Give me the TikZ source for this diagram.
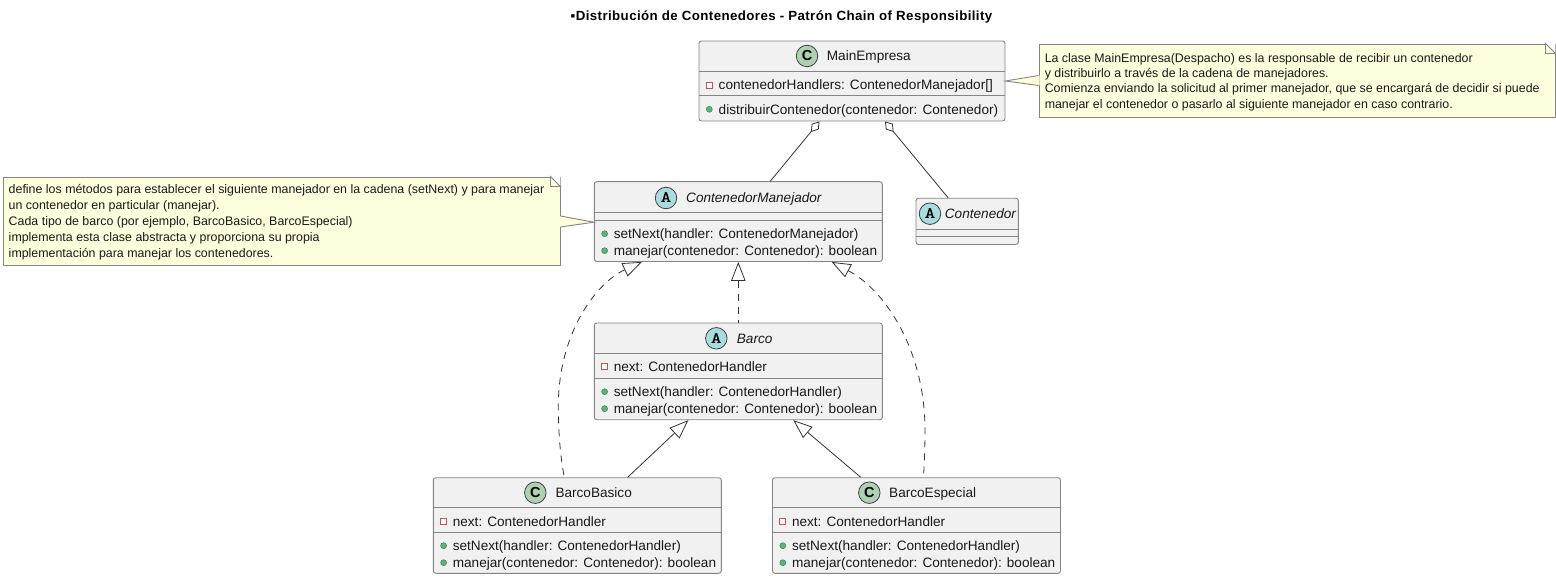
\documentclass[tikz,border=0pt]{standalone}
\usepackage{fontspec}
\usepackage{graphicx}
\setmainfont{Liberation Sans}
\usetikzlibrary{arrows.meta,calc}
\definecolor{boxfill}{HTML}{F1F1F1}
\definecolor{boxline}{HTML}{858585}
\definecolor{notefill}{HTML}{FEFFDD}
\definecolor{iconC}{HTML}{ADD1B2}
\definecolor{iconA}{HTML}{A9DCDF}
\definecolor{privline}{HTML}{C8505A}
\definecolor{pubfill}{HTML}{60B080}
\definecolor{publine}{HTML}{2E8B57}
\tikzset{
  classbox/.style={draw=boxline,fill=boxfill,rounded corners=2.5pt,line width=0.9pt,inner sep=0pt},
  sepline/.style={draw=boxline,line width=0.9pt},
  classicon/.style={circle,draw=black!75,line width=0.8pt,minimum size=21.5pt,inner sep=0pt},
  iconc/.style={classicon,fill=iconC,font=\bfseries\fontsize{14.5}{14}\selectfont},
  icona/.style={classicon,fill=iconA,font=\ttfamily\bfseries\fontsize{16}{14}\selectfont},
  ctitle/.style={anchor=base west,inner sep=0pt,text=black!90,font=\fontsize{13.6}{16}\selectfont},
  atitle/.style={ctitle,font=\itshape\fontsize{13.6}{16}\selectfont},
  member/.style={anchor=base west,inner sep=0pt,text=black!90,font=\fontsize{13.6}{16}\selectfont},
  notebox/.style={draw=boxline,fill=notefill,line width=0.9pt,inner sep=0pt},
  notetext/.style={inner sep=0pt,anchor=west,align=left,text=black!90},
  notea/.style={notetext,font=\fontsize{12.4}{15.4}\selectfont},
  noteb/.style={notetext,font=\fontsize{12.4}{16}\selectfont},
  pointer/.style={draw=boxline,fill=notefill,line width=0.9pt,line join=miter},
  aggr/.style={draw=black!80,line width=0.8pt,{Diamond[open,fill=white,length=13.5pt,width=9pt]}-},
  real/.style={draw=black!80,line width=0.8pt,{Triangle[open,fill=white,length=19pt,width=14.5pt]}-,dash pattern=on 7pt off 6pt},
  inh/.style={draw=black!80,line width=0.8pt,{Triangle[open,fill=white,length=19pt,width=14.5pt]}-},
}
\newcommand{\cbox}[7]{% name x1 y1 x2 y2 sep1 sep2
  \node[classbox,minimum width=#4-#2,minimum height=#5-#3] (#1) at ({(#2+#4)/2},{(#3+#5)/2}) {};
  \draw[sepline] (#2,#6) -- (#4,#6);
  \draw[sepline] (#2,#7) -- (#4,#7);
}
\newcommand{\privicon}[2]{\draw[draw=privline,fill=white,line width=0.8pt] (#1-3,#2-3) rectangle (#1+3,#2+3);}
\newcommand{\pubicon}[2]{\fill[fill=pubfill,draw=publine,line width=0.5pt] (#1,#2) circle (3pt);}
\newcommand{\wideA}{\scalebox{1.3}[1]{A}}
\begin{document}
\begin{tikzpicture}[x=1pt,y=-1pt]
\useasboundingbox (0,0) rectangle (1556,577);
\fill[white] (0,0) rectangle (1556,577);
% title
\node[anchor=base,inner sep=0pt,font=\bfseries\fontsize{13.3}{15}\selectfont\addfontfeature{LetterSpace=3}] (title) at (781.5,20.5) {▪Distribución de Contenedores - Patrón Chain of Responsibility};
% classes
\cbox{main}{699}{41}{1005}{121}{71.3}{95.3}
\cbox{cm}{594.3}{181.7}{882.3}{261.5}{212.3}{220}
\cbox{cont}{916}{198.3}{1018.3}{244.5}{229}{236.7}
\cbox{barco}{594.3}{323}{882.3}{419.7}{353.3}{378.3}
\cbox{basico}{433.3}{477.7}{721.3}{573.3}{507.7}{532.3}
\cbox{especial}{772.5}{477.7}{1060.5}{573.3}{507.7}{532.3}
% headers
\node[iconc] (iMain) at (807,56) {C};
\node[ctitle] (tMain) at (826.7,61) {MainEmpresa};
\node[icona] (iCm) at (666,198) {\wideA};
\node[atitle] (tCm) at (686,203) {ContenedorManejador};
\node[icona] (iCont) at (930,213.7) {\wideA};
\node[atitle] (tCont) at (944.7,218.7) {Contenedor};
\node[icona] (iBarco) at (716.3,338.3) {\wideA};
\node[atitle] (tBarco) at (736.7,343.3) {Barco};
\node[iconc] (iBas) at (535.3,492.7) {C};
\node[ctitle] (tBas) at (555.3,497.7) {BarcoBasico};
\node[iconc] (iEsp) at (869.3,492.7) {C};
\node[ctitle] (tEsp) at (889,497.7) {BarcoEspecial};
% members
\privicon{709.3}{85}
\node[member] (m1) at (718.5,90) {contenedorHandlers: ContenedorManejador[]};
\pubicon{709.3}{109.3}
\node[member] (m2) at (718.5,114.3) {distribuirContenedor(contenedor: Contenedor)};
\pubicon{604.6}{233.7}
\node[member] (c1) at (613.6,238.7) {setNext(handler: ContenedorManejador)};
\pubicon{604.6}{250.7}
\node[member] (c2) at (613.6,255.7) {manejar(contenedor: Contenedor): boolean};
\privicon{604.6}{366.7}
\node[member] (b1) at (613.6,371.7) {next: ContenedorHandler};
\pubicon{604.6}{391.7}
\node[member] (b2) at (613.6,396.7) {setNext(handler: ContenedorHandler)};
\pubicon{604.6}{408.7}
\node[member] (b3) at (613.6,413.7) {manejar(contenedor: Contenedor): boolean};
\privicon{443.6}{521.7}
\node[member] (s1) at (452.6,526.7) {next: ContenedorHandler};
\pubicon{443.6}{545.7}
\node[member] (s2) at (452.6,550.7) {setNext(handler: ContenedorHandler)};
\pubicon{443.6}{562.7}
\node[member] (s3) at (452.6,567.7) {manejar(contenedor: Contenedor): boolean};
\privicon{782.8}{521.7}
\node[member] (e1) at (791.8,526.7) {next: ContenedorHandler};
\pubicon{782.8}{545.7}
\node[member] (e2) at (791.8,550.7) {setNext(handler: ContenedorHandler)};
\pubicon{782.8}{562.7}
\node[member] (e3) at (791.8,567.7) {manejar(contenedor: Contenedor): boolean};
% notes
\node[notebox,minimum width=516pt,minimum height=73pt] (n1) at (1297,80.5) {};
\node[notea] (n1t) at ([xshift=6pt,yshift=-1.5pt]n1.west) {La clase MainEmpresa(Despacho) es la responsable de recibir un contenedor\\y distribuirlo a través de la cadena de manejadores.\\Comienza enviando la solicitud al primer manejador, que se encargará de decidir si puede\\manejar el contenedor o pasarlo al siguiente manejador en caso contrario.};
\node[notebox,minimum width=557pt,minimum height=88pt] (n2) at (281.5,221) {};
\node[noteb] (n2t) at ([xshift=6pt,yshift=-1.7pt]n2.west) {define los métodos para establecer el siguiente manejador en la cadena (setNext) y para manejar\\un contenedor en particular (manejar).\\Cada tipo de barco (por ejemplo, BarcoBasico, BarcoEspecial)\\implementa esta clase abstracta y proporciona su propia\\implementación para manejar los contenedores.};
% folds
\fill[white] ([xshift=-10pt]n1.north east) -- (n1.north east) -- ([yshift=-10pt]n1.north east) -- cycle;
\draw[pointer] ([xshift=-10pt]n1.north east) -- ([xshift=-10pt,yshift=-10pt]n1.north east) -- ([yshift=-10pt]n1.north east) -- cycle;
\fill[white] ([xshift=-10pt]n2.north east) -- (n2.north east) -- ([yshift=-10pt]n2.north east) -- cycle;
\draw[pointer] ([xshift=-10pt]n2.north east) -- ([xshift=-10pt,yshift=-10pt]n2.north east) -- ([yshift=-10pt]n2.north east) -- cycle;
% note pointers
\fill[notefill] ([xshift=1pt,yshift=5pt]n1.west) -- (main.east) -- ([xshift=1pt,yshift=-5pt]n1.west) -- cycle;
\draw[boxline,line width=0.9pt] ([yshift=5pt]n1.west) -- (main.east) -- ([yshift=-5pt]n1.west);
\fill[notefill] ([xshift=-1pt,yshift=5pt]n2.east) -- ([yshift=-0.6pt]cm.west) -- ([xshift=-1pt,yshift=-6pt]n2.east) -- cycle;
\draw[boxline,line width=0.9pt] ([yshift=5pt]n2.east) -- ([yshift=-0.6pt]cm.west) -- ([yshift=-6pt]n2.east);
% connectors
\draw[aggr] ([xshift=-32.5pt]main.south) -- ([xshift=32pt]cm.north);
\draw[aggr] ([xshift=33pt]main.south) -- ([xshift=-19pt]cont.north);
\draw[real] (cm.south) -- (barco.north);
\draw[real] ([xshift=-96.5pt]cm.south) .. controls (598,282) and (559,330) .. (558.3,405) .. controls (558.3,430) and (560,455) .. ([xshift=-13pt]basico.north);
\draw[real] ([xshift=93.4pt]cm.south) .. controls (885,290) and (925,350) .. (925,430) .. controls (925,445) and (924.5,460) .. ([xshift=7pt]especial.north);
\draw[inh] ([xshift=-50pt]barco.south) -- ([xshift=50.4pt]basico.north);
\draw[inh] ([xshift=55pt]barco.south) -- ([xshift=-55.8pt]especial.north);
\end{tikzpicture}
\end{document}
